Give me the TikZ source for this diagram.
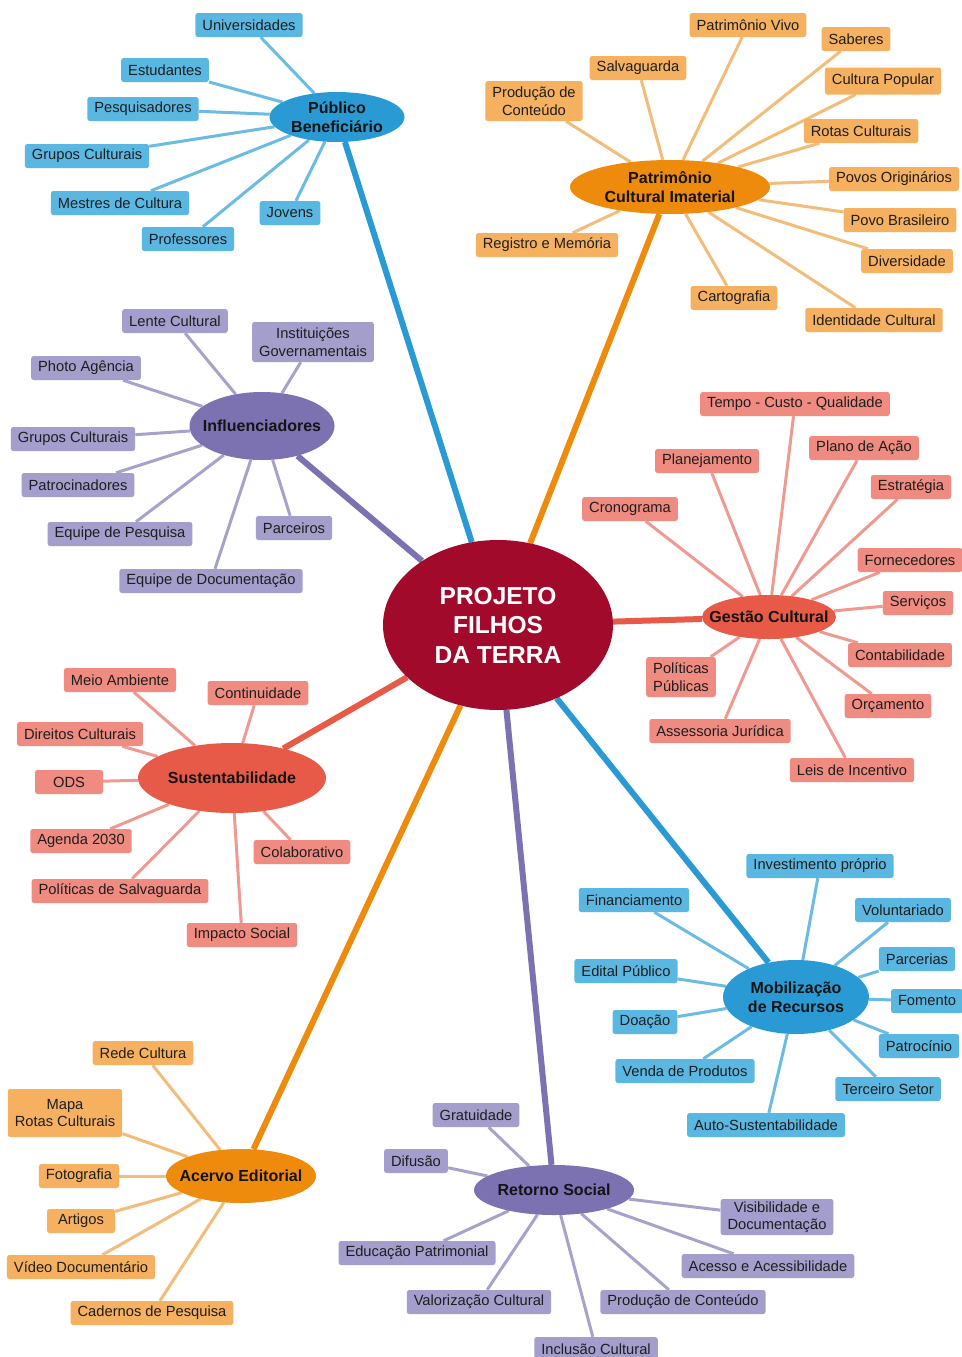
\documentclass[tikz,border=0pt]{standalone}
\usepackage{fontspec}
\setmainfont{Liberation Sans}
\usetikzlibrary{shapes.geometric,backgrounds}
\definecolor{cCenter}{HTML}{A20A2C}
\definecolor{eBlue}{HTML}{2A9AD4}
\definecolor{eOrange}{HTML}{EE8A0C}
\definecolor{ePurple}{HTML}{7C72B2}
\definecolor{eRed}{HTML}{E65A47}
\definecolor{fBlue}{HTML}{5AB7E2}
\definecolor{fOrange}{HTML}{F5B060}
\definecolor{fPurple}{HTML}{A39ECB}
\definecolor{fRed}{HTML}{EF8B80}
\definecolor{lBlue}{HTML}{6BBBE3}
\definecolor{lOrange}{HTML}{F2BC7A}
\definecolor{lPurple}{HTML}{A7A2CC}
\definecolor{lRed}{HTML}{EE9A90}
\definecolor{txt}{HTML}{1E1E1E}
\begin{document}
\begin{tikzpicture}[x=1pt,y=-1pt,
  leaf/.style={rounded corners=2.5pt, inner xsep=7pt, inner ysep=2pt, minimum height=24pt,
    font=\fontsize{14.7}{17.5}\selectfont, text=txt, align=center},
  twoline/.style={minimum height=40pt},
  bl/.style={leaf, fill=fBlue},
  ol/.style={leaf, fill=fOrange},
  pl/.style={leaf, fill=fPurple},
  rl/.style={leaf, fill=fRed},
  branch/.style={ellipse, inner sep=0pt},
  btext/.style={font=\fontsize{16}{19}\selectfont\bfseries, text=black!92, align=center},
  ctext/.style={font=\fontsize{24.5}{29.5}\selectfont\bfseries, text=white, align=center},
  lb/.style={draw=lBlue, line width=3pt},
  lo/.style={draw=lOrange, line width=3pt},
  lp/.style={draw=lPurple, line width=3pt},
  lr/.style={draw=lRed, line width=3pt},
  mainline/.style={line width=6pt}
]
\useasboundingbox (0,0) rectangle (961,1357);

% center
\node[branch, fill=cCenter, minimum width=230pt, minimum height=170pt,
  label={[ctext]center:{PROJETO\\FILHOS\\DA TERRA}}] (c) at (498,625) {};

% branch ellipses
\node[branch, fill=eBlue, minimum width=135pt, minimum height=50pt,
  label={[btext]center:{Público\\Beneficiário}}] (pb) at (337,117) {};
\node[branch, fill=eOrange, minimum width=200pt, minimum height=54pt,
  label={[btext]center:{Patrimônio\\Cultural Imaterial}}] (pci) at (670,187) {};
\node[branch, fill=ePurple, minimum width=145pt, minimum height=68pt,
  label={[btext]center:{Influenciadores}}] (inf) at (262,426) {};
\node[branch, fill=eRed, minimum width=134pt, minimum height=44pt,
  label={[btext]center:{Gestão Cultural}}] (gc) at (769,617) {};
\node[branch, fill=eRed, minimum width=188pt, minimum height=70pt,
  label={[btext]center:{Sustentabilidade}}] (sus) at (232,778) {};
\node[branch, fill=eBlue, minimum width=146pt, minimum height=74pt,
  label={[btext]center:{Mobilização\\de Recursos}}] (mob) at (796,997) {};
\node[branch, fill=eOrange, minimum width=150pt, minimum height=54pt,
  label={[btext]center:{Acervo Editorial}}] (ace) at (241,1176) {};
\node[branch, fill=ePurple, minimum width=160pt, minimum height=50pt,
  label={[btext]center:{Retorno Social}}] (ret) at (554,1190) {};

% Publico Beneficiario
\node[bl] (univ) at (249,25) {Universidades};
\node[bl] (estud) at (165,70) {Estudantes};
\node[bl] (pesq) at (143,109) {Pesquisadores};
\node[bl] (grupa) at (87,156) {Grupos Culturais};
\node[bl] (mestres) at (120,203) {Mestres de Cultura};
\node[bl] (jovens) at (290,213) {Jovens};
\node[bl] (prof) at (188,239) {Professores};

% Patrimonio Cultural Imaterial
\node[ol] (pv) at (748,25) {Patrimônio Vivo};
\node[ol] (sab) at (856,39) {Saberes};
\node[ol] (salv) at (638,68) {Salvaguarda};
\node[ol, twoline] (prodc) at (534,101) {Produção de\\Conteúdo};
\node[ol, minimum height=27pt] (cpop) at (883,81) {Cultura Popular};
\node[ol] (rotas) at (861,131) {Rotas Culturais};
\node[ol] (povos) at (894,179) {Povos Originários};
\node[ol] (povo) at (900,220) {Povo Brasileiro};
\node[ol] (divers) at (907,261) {Diversidade};
\node[ol] (ident) at (874,320) {Identidade Cultural};
\node[ol] (cart) at (734,298) {Cartografia};
\node[ol] (reg) at (547,245) {Registro e Memória};

% Influenciadores
\node[pl] (lente) at (175,321) {Lente Cultural};
\node[pl, twoline] (inst) at (313,342) {Instituições\\Governamentais};
\node[pl] (photo) at (86,368) {Photo Agência};
\node[pl] (grupb) at (73,439) {Grupos Culturais};
\node[pl] (patro) at (78,485) {Patrocinadores};
\node[pl] (eqp) at (120,534) {Equipe de Pesquisa};
\node[pl] (parc) at (294,528) {Parceiros};
\node[pl] (eqd) at (211,581) {Equipe de Documentação};

% Gestao Cultural
\node[rl] (tempo) at (795,404) {Tempo - Custo - Qualidade};
\node[rl] (plano) at (864,448) {Plano de Ação};
\node[rl] (planej) at (707,461) {Planejamento};
\node[rl] (estr) at (911,487) {Estratégia};
\node[rl] (crono) at (630,509) {Cronograma};
\node[rl] (forn) at (910,560) {Fornecedores};
\node[rl] (serv) at (918,603) {Serviços};
\node[rl] (cont) at (900,655) {Contabilidade};
\node[rl, twoline] (polpub) at (681,677) {Políticas\\Públicas};
\node[rl] (orc) at (888,706) {Orçamento};
\node[rl] (assess) at (720,731) {Assessoria Jurídica};
\node[rl] (leis) at (852,770) {Leis de Incentivo};

% Sustentabilidade
\node[rl] (meio) at (120,680) {Meio Ambiente};
\node[rl] (contin) at (258,693) {Continuidade};
\node[rl] (dir) at (80,734) {Direitos Culturais};
\node[rl, minimum width=68pt] (ods) at (69,782) {ODS};
\node[rl] (agenda) at (81,841) {Agenda 2030};
\node[rl] (colab) at (302,852) {Colaborativo};
\node[rl] (polsalv) at (120,891) {Políticas de Salvaguarda};
\node[rl] (impacto) at (242,935) {Impacto Social};

% Mobilizacao de Recursos
\node[bl] (inv) at (820,866) {Investimento próprio};
\node[bl] (fin) at (634,900) {Financiamento};
\node[bl] (vol) at (903,910) {Voluntariado};
\node[bl] (parcer) at (917,959) {Parcerias};
\node[bl] (edital) at (626,971) {Edital Público};
\node[bl] (fom) at (927,1001) {Fomento};
\node[bl] (doa) at (645,1022) {Doação};
\node[bl] (patroc) at (919,1046) {Patrocínio};
\node[bl] (venda) at (685,1071) {Venda de Produtos};
\node[bl] (terc) at (888,1089) {Terceiro Setor};
\node[bl] (auto) at (766,1125) {Auto-Sustentabilidade};

% Acervo Editorial
\node[ol] (rede) at (143,1053) {Rede Cultura};
\node[ol, minimum height=48pt] (mapa) at (65,1113) {Mapa\\Rotas Culturais};
\node[ol] (foto) at (79,1176) {Fotografia};
\node[ol, minimum width=68pt] (art) at (81,1221) {Artigos};
\node[ol] (video) at (81,1267) {Vídeo Documentário};
\node[ol] (cad) at (152,1313) {Cadernos de Pesquisa};

% Retorno Social
\node[pl] (grat) at (476,1115) {Gratuidade};
\node[pl] (difu) at (416,1161) {Difusão};
\node[pl, minimum height=36pt] (visdoc) at (777,1217) {Visibilidade e\\Documentação};
\node[pl] (edupat) at (417,1253) {Educação Patrimonial};
\node[pl] (acesso) at (768,1266) {Acesso e Acessibilidade};
\node[pl] (valor) at (479,1302) {Valorização Cultural};
\node[pl] (prodcb) at (683,1302) {Produção de Conteúdo};
\node[pl] (incl) at (596,1349) {Inclusão Cultural};

\begin{scope}[on background layer]
  \fill[white] (0,0) rectangle (961,1357);
  \draw[mainline, draw=eBlue] (c) -- (pb);
  \draw[mainline, draw=eOrange] (c) -- (pci);
  \draw[mainline, draw=ePurple] (c) -- (inf);
  \draw[mainline, draw=eRed] (c) -- (gc);
  \draw[mainline, draw=eRed] (c) -- (sus);
  \draw[mainline, draw=eBlue] (c) -- (mob);
  \draw[mainline, draw=eOrange] (c) -- (ace);
  \draw[mainline, draw=ePurple] (c) -- (ret);
  \foreach \n in {univ,estud,pesq,grupa,mestres,jovens,prof} \draw[lb] (pb) -- (\n);
  \foreach \n in {pv,sab,salv,prodc,cpop,rotas,povos,povo,divers,ident,cart,reg} \draw[lo] (pci) -- (\n);
  \foreach \n in {lente,inst,photo,grupb,patro,eqp,parc,eqd} \draw[lp] (inf) -- (\n);
  \foreach \n in {tempo,plano,planej,estr,crono,forn,serv,cont,polpub,orc,assess,leis} \draw[lr] (gc) -- (\n);
  \foreach \n in {meio,contin,dir,ods,agenda,colab,polsalv,impacto} \draw[lr] (sus) -- (\n);
  \foreach \n in {inv,fin,vol,parcer,edital,fom,doa,patroc,venda,terc,auto} \draw[lb] (mob) -- (\n);
  \foreach \n in {rede,mapa,foto,art,video,cad} \draw[lo] (ace) -- (\n);
  \foreach \n in {grat,difu,visdoc,edupat,acesso,valor,prodcb,incl} \draw[lp] (ret) -- (\n);
\end{scope}
\end{tikzpicture}
\end{document}
